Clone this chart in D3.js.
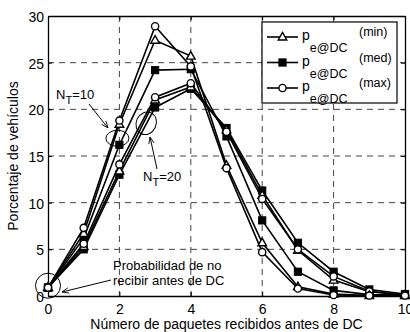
<!DOCTYPE html>
<html><head><meta charset="utf-8">
<script src="https://cdn.jsdelivr.net/npm/d3@7"></script>
<style>
body{margin:0;background:#fff;}
svg{display:block;font-family:"Liberation Sans",Arial,Helvetica,sans-serif;}
</style></head>
<body><svg id="c" width="410" height="332"></svg>
<script>
const xValues = [0,1,2,3,4,5,6,7,8,9,10];
const nt10Min = [0.9, 6.7, 18.4, 27.4, 25.7, 14.0, 5.7, 1.0, 0.2, 0.05, 0.05];
const nt10Med = [0.9, 6.2, 16.2, 24.2, 24.3, 17.1, 8.1, 2.6, 0.6, 0.15, 0.1];
const nt10Max = [0.9, 7.3, 18.8, 28.9, 24.6, 13.7, 4.7, 0.8, 0.1, 0.05, 0.05];
const nt20Min = [0.9, 5.3, 13.4, 21.0, 22.4, 17.8, 10.8, 4.9, 1.7, 0.45, 0.1];
const nt20Med = [0.9, 5.0, 13.0, 20.2, 22.2, 18.0, 11.3, 5.7, 2.6, 0.7, 0.2];
const nt20Max = [0.9, 5.6, 14.1, 21.3, 22.8, 17.6, 10.4, 5.0, 2.1, 0.5, 0.1];
const xTicks = [0,2,4,6,8,10];
const yTicks = [0,5,10,15,20,25,30];
const legendLabels = ["(min)","(med)","(max)"];
const markerTypes = ["triangle","square","circle"];

const series = [
  {v: nt10Med, m:"square"}, {v: nt20Med, m:"square"},
  {v: nt20Min, m:"triangle"}, {v: nt20Max, m:"circle"},
  {v: nt10Min, m:"triangle"}, {v: nt10Max, m:"circle"}
];

const L=48, R=405, T=16, B=296;
const x = d3.scaleLinear().domain([0,10]).range([L,R]);
const y = d3.scaleLinear().domain([0,30]).range([B,T]);
const svg = d3.select("#c");

// grid
const g = svg.append("g");
g.selectAll(".gx").data(xTicks.filter(t=>t>0&&t<10)).enter().append("line")
  .attr("x1",d=>x(d)).attr("x2",d=>x(d)).attr("y1",T).attr("y2",B)
  .attr("stroke","#444").attr("stroke-width",1).attr("stroke-dasharray","6,5");
g.selectAll(".gy").data(yTicks.filter(t=>t>0&&t<30)).enter().append("line")
  .attr("y1",d=>y(d)).attr("y2",d=>y(d)).attr("x1",L).attr("x2",R)
  .attr("stroke","#444").attr("stroke-width",1).attr("stroke-dasharray","6,5");

// axes
const ax = svg.append("g").attr("transform",`translate(0,${B})`)
  .call(d3.axisBottom(x).tickValues(xTicks).tickSizeInner(-4).tickSizeOuter(0).tickPadding(8));
const ay = svg.append("g").attr("transform",`translate(${L},0)`)
  .call(d3.axisLeft(y).tickValues(yTicks).tickSizeInner(-4).tickSizeOuter(0).tickPadding(4));
const axT = svg.append("g").attr("transform",`translate(0,${T})`)
  .call(d3.axisTop(x).tickValues(xTicks).tickSizeInner(-4).tickSizeOuter(0).tickFormat(""));
const ayR = svg.append("g").attr("transform",`translate(${R},0)`)
  .call(d3.axisRight(y).tickValues(yTicks).tickSizeInner(-4).tickSizeOuter(0).tickFormat(""));
[ax,ay,axT,ayR].forEach(a=>{
  a.select(".domain").attr("stroke","#000").attr("stroke-width",1.3);
  a.selectAll(".tick line").attr("stroke","#000");
  a.selectAll("text").attr("font-size",14).attr("fill","#000").attr("font-family","Liberation Sans, Arial, sans-serif");
});
ay.selectAll("text").attr("dy","0.4em");

// lines
const line = d3.line().x((d,i)=>x(xValues[i])).y(d=>y(d));
series.forEach(s=>{
  svg.append("path").attr("d",line(s.v)).attr("fill","none")
    .attr("stroke","#000").attr("stroke-width",1.6);
});
function marker(sel, type, cx, cy){
  if(type==="circle"){
    sel.append("circle").attr("cx",cx).attr("cy",cy).attr("r",3.6)
      .attr("fill","#fff").attr("stroke","#000").attr("stroke-width",1.4);
  } else if(type==="square"){
    sel.append("rect").attr("x",cx-3.6).attr("y",cy-3.6).attr("width",7.2).attr("height",7.2)
      .attr("fill","#000").attr("stroke","#000").attr("stroke-width",1);
  } else {
    sel.append("path").attr("d",`M${cx},${cy-4.6}L${cx+4.3},${cy+3}L${cx-4.3},${cy+3}Z`)
      .attr("fill","#fff").attr("stroke","#000").attr("stroke-width",1.4);
  }
}
series.forEach(s=>{
  const mg = svg.append("g");
  s.v.forEach((d,i)=>marker(mg, s.m, x(xValues[i]), y(d)));
});

// annotations
const ann = svg.append("g").attr("font-size",13).attr("fill","#000");
svg.append("defs").append("marker").attr("id","ah").attr("viewBox","0 0 10 10")
  .attr("refX",10).attr("refY",5).attr("markerWidth",7).attr("markerHeight",7).attr("orient","auto-start-reverse")
  .append("path").attr("d","M0,1L10,5L0,9").attr("fill","none").attr("stroke","#000").attr("stroke-width",1.2);

// NT=10
svg.append("ellipse").attr("cx",x(2)-2).attr("cy",y(16.9)).attr("rx",11.5).attr("ry",8)
  .attr("fill","none").attr("stroke","#000").attr("stroke-width",1);
svg.append("line").attr("x1",89).attr("y1",104).attr("x2",108).attr("y2",128)
  .attr("stroke","#000").attr("stroke-width",1).attr("marker-end","url(#ah)");
const t10 = ann.append("text").attr("x",56).attr("y",99);
t10.append("tspan").text("N");
t10.append("tspan").attr("dy",5).attr("font-size",11).text("T");
t10.append("tspan").attr("dy",-5).text("=10");

// NT=20
svg.append("ellipse").attr("cx",x(2.75)).attr("cy",y(18.5)).attr("rx",10).attr("ry",11.5)
  .attr("transform",`rotate(25,${x(2.75)},${y(18.5)})`)
  .attr("fill","none").attr("stroke","#000").attr("stroke-width",1);
svg.append("line").attr("x1",157).attr("y1",169).attr("x2",150).attr("y2",137)
  .attr("stroke","#000").attr("stroke-width",1).attr("marker-end","url(#ah)");
const t20 = ann.append("text").attr("x",143).attr("y",181);
t20.append("tspan").text("N");
t20.append("tspan").attr("dy",5).attr("font-size",11).text("T");
t20.append("tspan").attr("dy",-5).text("=20");

// origin
svg.append("circle").attr("cx",x(0)).attr("cy",y(1.1)).attr("r",12.5)
  .attr("fill","none").attr("stroke","#000").attr("stroke-width",1);
svg.append("line").attr("x1",111).attr("y1",280).attr("x2",62).attr("y2",292)
  .attr("stroke","#000").attr("stroke-width",1).attr("marker-end","url(#ah)");
ann.append("text").attr("x",113).attr("y",270).text("Probabilidad de no");
ann.append("text").attr("x",113).attr("y",285).text("recibir antes de DC");

// legend
const lg = svg.append("g");
lg.append("rect").attr("x",262).attr("y",22).attr("width",135).attr("height",81)
  .attr("fill","#fff").attr("stroke","#000").attr("stroke-width",1.2);
legendLabels.forEach((lab,i)=>{
  const cy = 37 + i*25.5;
  lg.append("line").attr("x1",267).attr("x2",298).attr("y1",cy).attr("y2",cy)
    .attr("stroke","#000").attr("stroke-width",1.6);
  marker(lg, markerTypes[i], 282.5, cy);
  const t = lg.append("text").attr("x",302).attr("y",cy+3).attr("font-size",14).attr("fill","#000");
  t.append("tspan").text("p");
  t.append("tspan").attr("dy",12).attr("font-size",12.5).text("e@DC");
  lg.append("text").attr("x",359).attr("y",cy-1).attr("font-size",12.5).attr("fill","#000").text(lab);
});

// axis labels
svg.append("text").attr("x",(L+R)/2).attr("y",329).attr("text-anchor","middle")
  .attr("font-size",14).attr("fill","#000").text("Número de paquetes recibidos antes de DC");
svg.append("text").attr("transform",`translate(18,${(T+B)/2}) rotate(-90)`).attr("text-anchor","middle")
  .attr("font-size",14).attr("fill","#000").text("Porcentaje de vehículos");
</script></body></html>
